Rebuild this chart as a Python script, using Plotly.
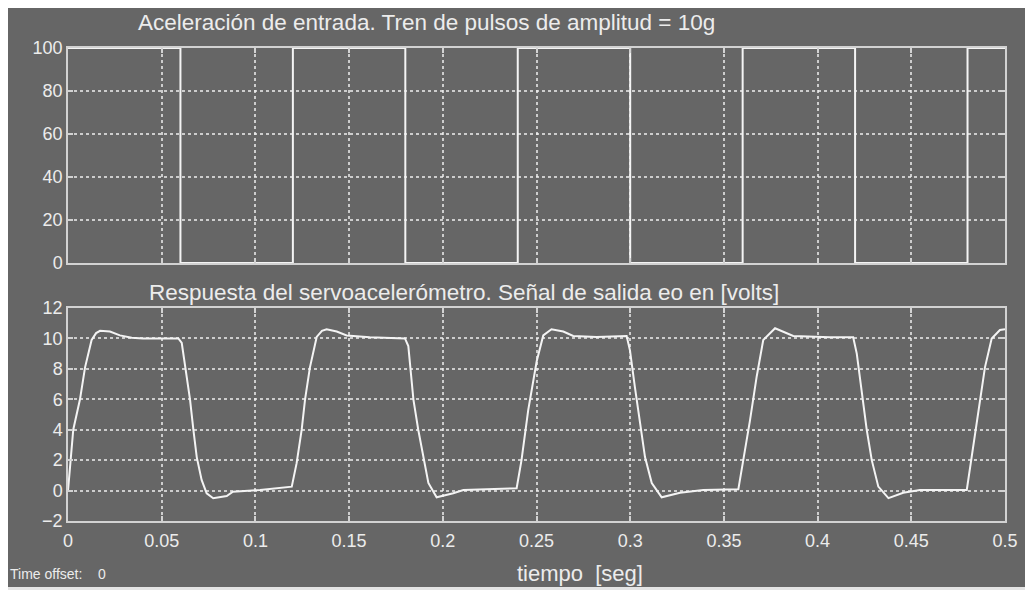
import plotly.graph_objects as go
from plotly.subplots import make_subplots

# ---- data ----
pulse_t = [0, 0.06, 0.06, 0.12, 0.12, 0.18, 0.18, 0.24, 0.24, 0.30, 0.30,
           0.36, 0.36, 0.42, 0.42, 0.48, 0.48, 0.5]
pulse_v = [100, 100, 0, 0, 100, 100, 0, 0, 100, 100, 0, 0, 100, 100, 0, 0, 100, 100]

resp_t = [0, 0.0028, 0.0064, 0.0091, 0.0126, 0.0150, 0.0171, 0.0224, 0.0277, 0.034, 0.040, 0.0589,
          0.0607, 0.0633, 0.0651, 0.0669, 0.0687, 0.0713, 0.074, 0.0775, 0.0847, 0.088, 0.1025,
          0.1194, 0.122, 0.1247, 0.1265, 0.1291, 0.1327, 0.1355, 0.138, 0.1434, 0.1487, 0.161, 0.1798,
          0.1816, 0.1843, 0.1869, 0.1896, 0.1923, 0.1967, 0.2056, 0.211, 0.2394,
          0.242, 0.2456, 0.2501, 0.2536, 0.258, 0.2643, 0.2696, 0.282, 0.2981,
          0.2999, 0.3025, 0.3052, 0.3079, 0.3115, 0.3168, 0.3266, 0.339, 0.3577,
          0.3604, 0.3639, 0.3675, 0.371, 0.3773, 0.3817, 0.387, 0.4066, 0.419,
          0.4209, 0.4235, 0.4262, 0.4289, 0.4324, 0.4378, 0.4457, 0.4546, 0.4796,
          0.4822, 0.4858, 0.4893, 0.4929, 0.4973, 0.5]
resp_v = [0, 4.0, 6.0, 8.1, 9.9, 10.35, 10.5, 10.45, 10.2, 10.05, 10.0, 10.0,
          9.7, 7.5, 6.0, 4.0, 2.2, 0.7, -0.18, -0.5, -0.36, -0.07, 0.04,
          0.26, 1.8, 4.0, 6.0, 8.1, 10.1, 10.5, 10.6, 10.45, 10.2, 10.08, 10.0,
          9.5, 6.0, 4.0, 2.2, 0.5, -0.44, -0.18, 0.04, 0.15,
          2.0, 5.3, 8.5, 10.2, 10.6, 10.45, 10.16, 10.1, 10.16,
          9.2, 6.8, 4.4, 2.2, 0.5, -0.44, -0.14, 0.04, 0.08,
          2.0, 4.6, 7.5, 9.9, 10.67, 10.45, 10.16, 10.08, 10.08,
          9.0, 6.4, 4.0, 2.0, 0.26, -0.5, -0.14, 0.04, 0.04,
          2.2, 5.3, 8.1, 10.0, 10.55, 10.6]

x_ticks = [0, 0.05, 0.1, 0.15, 0.2, 0.25, 0.3, 0.35, 0.4, 0.45, 0.5]
x_labels = ["0", "0.05", "0.1", "0.15", "0.2", "0.25", "0.3", "0.35", "0.4", "0.45", "0.5"]
top_y_ticks = [0, 20, 40, 60, 80, 100]
bot_y_ticks = [-2, 0, 2, 4, 6, 8, 10, 12]

top_title = "Aceleración de entrada. Tren de pulsos de amplitud = 10g"
bot_title = "Respuesta del servoacelerómetro. Señal de salida eo en [volts]"
x_title = "tiempo  [seg]"
offset_text = "Time offset:    0"

# ---- figure (page has an 8 px body margin, so the figure is offset) ----
OFF = 8
W, H = 1033 - OFF, 590 - OFF
ML, MR, MT, MB = 68 - OFF, 1033 - 1005, 48 - OFF, 590 - 521
PW, PH = W - ML - MR, H - MT - MB


def px(x):  # page pixel -> paper fraction
    return (x - OFF - ML) / PW


def py(y):
    return (H - MB - (y - OFF)) / PH


BG = "#666666"
FG = "#ececec"
AX = "#d2d2d2"
GRID = "rgba(240,240,240,0.75)"
FONT = "Liberation Sans, Arial, sans-serif"

fig = make_subplots(rows=2, cols=1, vertical_spacing=0.0)

fig.add_trace(go.Scatter(x=pulse_t, y=pulse_v, mode="lines",
                         line=dict(color="#f4f4f4", width=2), showlegend=False),
              row=1, col=1)
fig.add_trace(go.Scatter(x=resp_t, y=resp_v, mode="lines",
                         line=dict(color="#f4f4f4", width=2), showlegend=False),
              row=2, col=1)

axis_common = dict(showline=True, linecolor=AX, linewidth=1.5, mirror="ticks",
                   ticks="inside", ticklen=5, tickcolor=AX, tickwidth=1.5,
                   showgrid=True, gridcolor=GRID, griddash="dot", gridwidth=1.5,
                   zeroline=False, automargin=False,
                   tickfont=dict(family=FONT, size=18, color=FG))

fig.update_xaxes(range=[0, 0.5], tickvals=x_ticks, ticktext=x_labels, **axis_common)
fig.update_xaxes(showticklabels=False, row=1, col=1)
fig.update_xaxes(domain=[0, 1])
fig.update_yaxes(**axis_common)
fig.update_yaxes(range=[0, 100], tickvals=top_y_ticks, domain=[py(263), 1.0], row=1, col=1)
fig.update_yaxes(range=[-2, 12], tickvals=bot_y_ticks, domain=[0, py(308)], row=2, col=1)
fig.update_xaxes(ticklabelstandoff=3, row=2, col=1)

fig.add_shape(type="rect", xref="paper", yref="paper",
              x0=px(5), x1=px(1040), y0=py(587), y1=py(5),
              fillcolor=BG, line=dict(width=0), layer="below")

annots = [
    dict(text=top_title, x=px(426), y=py(22), size=22.5),
    dict(text=bot_title, x=px(464), y=py(292), size=22.5),
    dict(text=x_title, x=px(580), y=py(573), size=22),
]
for a in annots:
    fig.add_annotation(text=a["text"], x=a["x"], y=a["y"], xref="paper", yref="paper",
                       xanchor="center", yanchor="middle", showarrow=False,
                       font=dict(family=FONT, size=a["size"], color=FG))
fig.add_annotation(text=offset_text, x=px(8), y=py(574), xref="paper", yref="paper",
                   xanchor="left", yanchor="middle", showarrow=False,
                   font=dict(family=FONT, size=14, color=FG))

fig.update_layout(width=W, height=H, margin=dict(l=ML, r=MR, t=MT, b=MB),
                  paper_bgcolor="#e4e4e4", plot_bgcolor="rgba(0,0,0,0)",
                  showlegend=False, font=dict(family=FONT, color=FG))

fig.write_html("out.html")
